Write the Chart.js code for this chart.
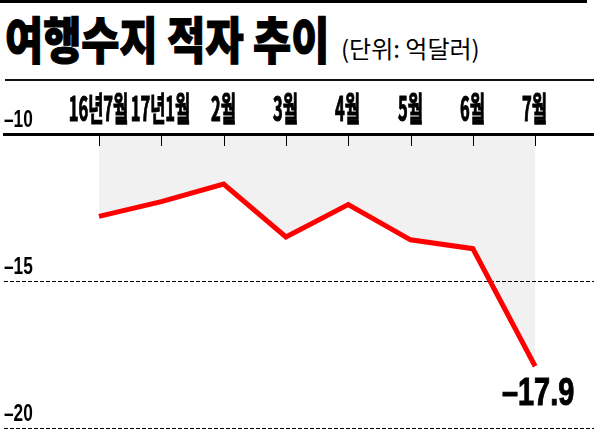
<!DOCTYPE html>
<html>
<head>
<meta charset="utf-8">
<script src="https://cdn.jsdelivr.net/npm/chart.js@4"></script>
<style>
  body { margin: 0; background: #fff; }
  #wrap { position: relative; width: 594px; height: 429px; overflow: hidden; }
  #topbar { position: absolute; left: 0; top: 0; width: 587px; height: 3px; background: #000; }
  #title { position: absolute; left: 5px; top: 12px; font-family: 'Noto Sans CJK KR'; font-weight: 900;
           font-size: 50px; line-height: 1; white-space: nowrap; transform-origin: 0 0; transform: scaleX(0.83);
           -webkit-text-stroke: 1.2px #000; }
  #unit { position: absolute; left: 341px; top: 36px; font-family: 'Noto Sans CJK KR'; font-size: 24px;
          line-height: 1; white-space: nowrap; transform-origin: 0 0; transform: scaleX(1); }
  #rule { position: absolute; left: 5px; top: 79px; width: 589px; height: 2px; background: #111; }
  #chart { position: absolute; left: 0; top: 0; }
</style>
</head>
<body>
<div id="wrap">
  <div id="topbar"></div>
  <div id="title">여행수지 적자 추이</div>
  <div id="unit">(단위: 억달러)</div>
  <div id="rule"></div>
  <canvas id="chart" width="594" height="429"></canvas>
</div>
<script>
// months and travel balance deficit (100M USD)
var labels = ['16년7월', '17년1월', '2월', '3월', '4월', '5월', '6월', '7월'];
var deficit = [-12.8, -12.3, -11.7, -13.5, -12.4, -13.6, -13.9, -17.9];
var yTicks = [-10, -15, -20];

function dash(v) { return '–' + Math.abs(v); }

// narrow text, the paper uses a condensed gothic
function squeeze(ctx, text, x, y, font, sx, align, heavy) {
  ctx.save();
  ctx.translate(x, y);
  ctx.scale(sx, 1);
  ctx.font = font;
  ctx.fillStyle = '#000';
  ctx.strokeStyle = '#000';
  ctx.textAlign = align || 'center';
  ctx.textBaseline = 'alphabetic';
  ctx.fillText(text, 0, 0);
  if (heavy) {
    ctx.lineWidth = heavy;
    ctx.strokeText(text, 0, 0);
  }
  ctx.restore();
}

var marks = {
  id: 'marks',
  afterDatasetsDraw: function(chart) {
    var ctx = chart.ctx, xs = chart.scales.x, ys = chart.scales.y, top = chart.chartArea.top;
    ctx.save();
    ctx.strokeStyle = '#000';
    ctx.lineWidth = 1;
    labels.forEach(function(lab, i) {
      var px = Math.round(xs.getPixelForValue(i)) + 0.5;
      ctx.beginPath();
      ctx.moveTo(px, top);
      ctx.lineTo(px, top + 12);
      ctx.stroke();
      squeeze(ctx, lab, px - 1, top - 13, 'bold 33px "Noto Sans CJK KR"', 0.5, 'center', 1.2);
    });
    yTicks.forEach(function(v) {
      squeeze(ctx, dash(v), 4, ys.getPixelForValue(v) - 7, 'bold 24px "Liberation Sans"', 0.72, 'left');
    });
    var last = deficit.length - 1;
    var pt = chart.getDatasetMeta(0).data[last];
    squeeze(ctx, dash(deficit[last].toFixed(1)), pt.x + 3, pt.y + 39,
      'bold 38px "Liberation Sans"', 0.76, 'center', 1);
    ctx.restore();
  }
};

var ctxL = document.getElementById('chart').getContext('2d');
var myChart = new Chart(ctxL, {
  type: 'line',
  data: {
    datasets: [{
      data: deficit.map(function(v, i) { return { x: i, y: v }; }),
      borderColor: '#ff0000',
      borderWidth: 5,
      borderJoinStyle: 'miter',
      backgroundColor: '#f1f1f1',
      fill: 'end',
      pointRadius: 0,
      tension: 0
    }]
  },
  options: {
    responsive: false,
    animation: false,
    devicePixelRatio: 1,
    layout: { padding: { top: 134, bottom: 1, left: 4, right: 0 } },
    plugins: {
      legend: { display: false },
      tooltip: { enabled: false },
      filler: { drawTime: 'beforeDraw' }
    },
    scales: {
      x: {
        type: 'linear',
        position: 'top',
        min: -1.525,
        max: 7.945,
        ticks: { display: false },
        grid: { display: true, drawOnChartArea: false, drawTicks: false },
        border: { display: true, color: '#000', width: 3 }
      },
      y: {
        min: -20,
        max: -10,
        afterBuildTicks: function(s) { s.ticks = yTicks.map(function(v) { return { value: v }; }); },
        ticks: { display: false },
        grid: { color: '#000', lineWidth: 1, drawTicks: false },
        border: { display: false, dash: [4, 2] }
      }
    }
  },
  plugins: [marks]
});
</script>
</body>
</html>
